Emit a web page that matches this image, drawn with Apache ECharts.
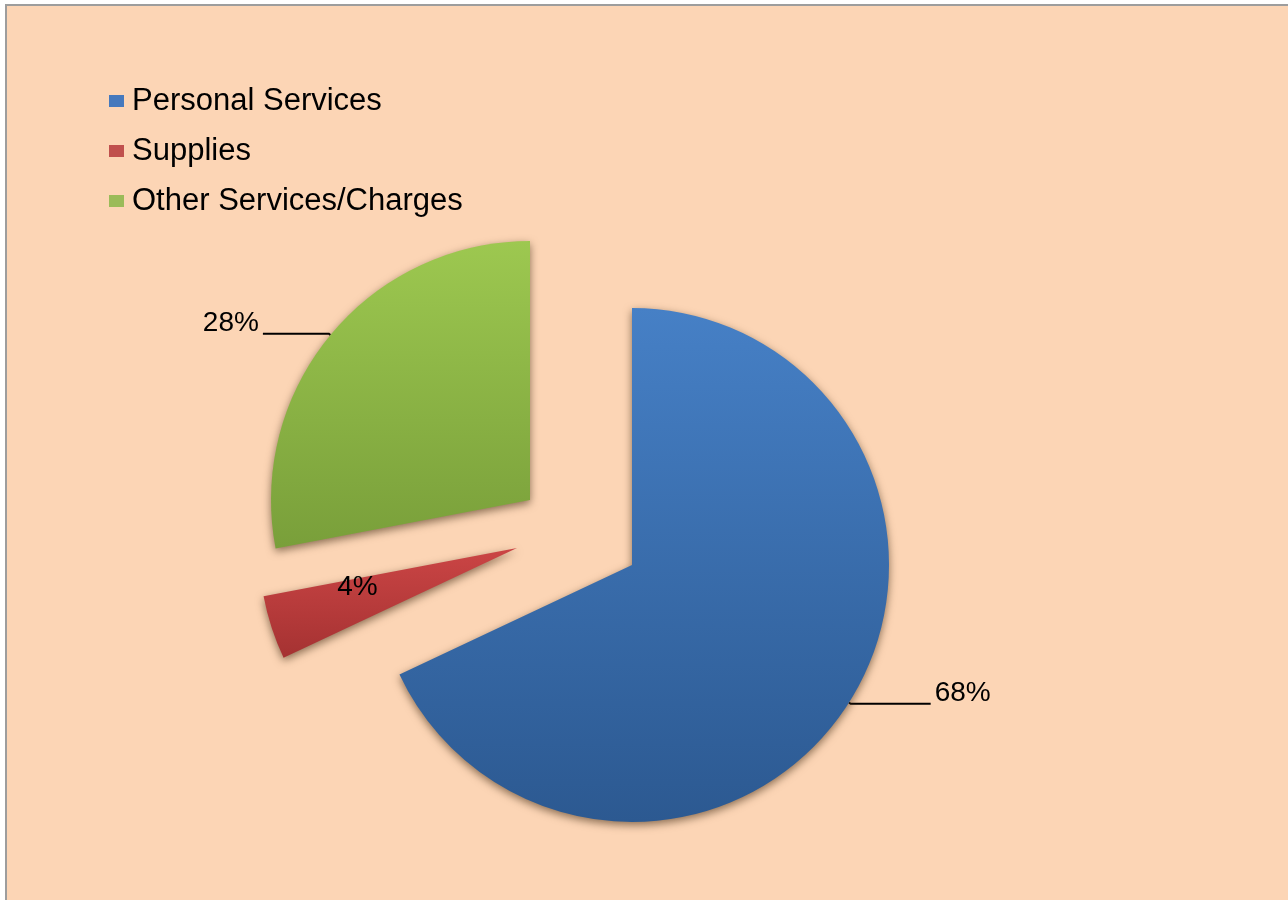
<!DOCTYPE html>
<html>
<head>
<meta charset="utf-8">
<script src="https://cdn.jsdelivr.net/npm/echarts@6/dist/echarts.min.js"></script>
<style>
  html, body { margin: 0; padding: 0; background: #ffffff; width: 1288px; height: 900px; overflow: hidden; }
  #frame { position: absolute; left: 5px; top: 4px; width: 1300px; height: 920px;
           background: #FCD5B5; border-left: 2px solid #9d9d9d; border-top: 2px solid #9d9d9d; }
  #chart { position: absolute; left: 0; top: 0; width: 1288px; height: 900px; }
</style>
</head>
<body>
<div id="frame"></div>
<div id="chart"></div>
<script>
// Expenditure shares by category (percent of total)
const categories = ['Personal Services', 'Supplies', 'Other Services/Charges'];
const shares = [68, 4, 28];

const FONT = "'Liberation Sans', Arial, sans-serif";

// Slice fills: light top to darker bottom, like a bevelled office pie
const fills = [
  ['#4680C6', '#2C5991'],
  ['#CB4545', '#A53232'],
  ['#9DC850', '#799F3A']
];
const legendColors = ['#4679BD', '#C0504D', '#9BBB59'];

// Each slice is drawn by its own pie series so it can be pulled out on its own
const explode = [
  { center: [632, 565], radius: 257, label: { position: 'outside' }, line: { length: 2, length2: 80 }, layout: { dy: -10 } },
  { center: [517, 548], radius: 258, label: { position: 'inside' }, layout: { dx: -34, dy: -2 } },
  { center: [530, 500], radius: 259, label: { position: 'outside' }, line: { length: 2, length2: 66 }, layout: { dy: -10 } }
];

function gradient(pair) {
  return new echarts.graphic.LinearGradient(0, 0, 0, 1, [
    { offset: 0, color: pair[0] },
    { offset: 1, color: pair[1] }
  ]);
}

const series = explode.map((cfg, i) => ({
  type: 'pie',
  name: categories[i],
  center: cfg.center,
  radius: cfg.radius,
  startAngle: 90,
  clockwise: true,
  avoidLabelOverlap: false,
  silent: true,
  emphasis: { disabled: true },
  labelLayout: cfg.layout || null,
  data: categories.map((name, j) => {
    const own = j === i;
    return {
      name: name,
      value: shares[j],
      itemStyle: own ? {
        color: gradient(fills[j]),
        shadowBlur: 9,
        shadowOffsetX: 0,
        shadowOffsetY: 3,
        shadowColor: 'rgba(60, 38, 15, 0.6)'
      } : { color: 'rgba(0,0,0,0)', shadowBlur: 0 },
      label: own ? {
        show: true,
        position: cfg.label.position,
        formatter: p => Math.round(p.percent) + '%',
        fontFamily: FONT,
        fontSize: 28,
        color: '#000000',
        distanceToLabelLine: 4
      } : { show: false },
      labelLine: own && cfg.line ? {
        show: true,
        length: cfg.line.length,
        length2: cfg.line.length2,
        smooth: false,
        lineStyle: { color: '#000000', width: 2 }
      } : { show: false }
    };
  })
}));

const chart = echarts.init(document.getElementById('chart'), null, { renderer: 'canvas' });
chart.setOption({
  backgroundColor: 'transparent',
  animation: false,
  legend: {
    orient: 'vertical',
    left: 104,
    top: 78,
    itemWidth: 15,
    itemHeight: 12,
    itemGap: 14,
    icon: 'rect',
    selectedMode: false,
    data: categories.map((name, i) => ({ name: name, itemStyle: { color: legendColors[i] } })),
    textStyle: { fontFamily: FONT, fontSize: 31, color: '#000000', lineHeight: 36, padding: [0, 0, 0, 3] }
  },
  series: series
});
</script>
</body>
</html>
